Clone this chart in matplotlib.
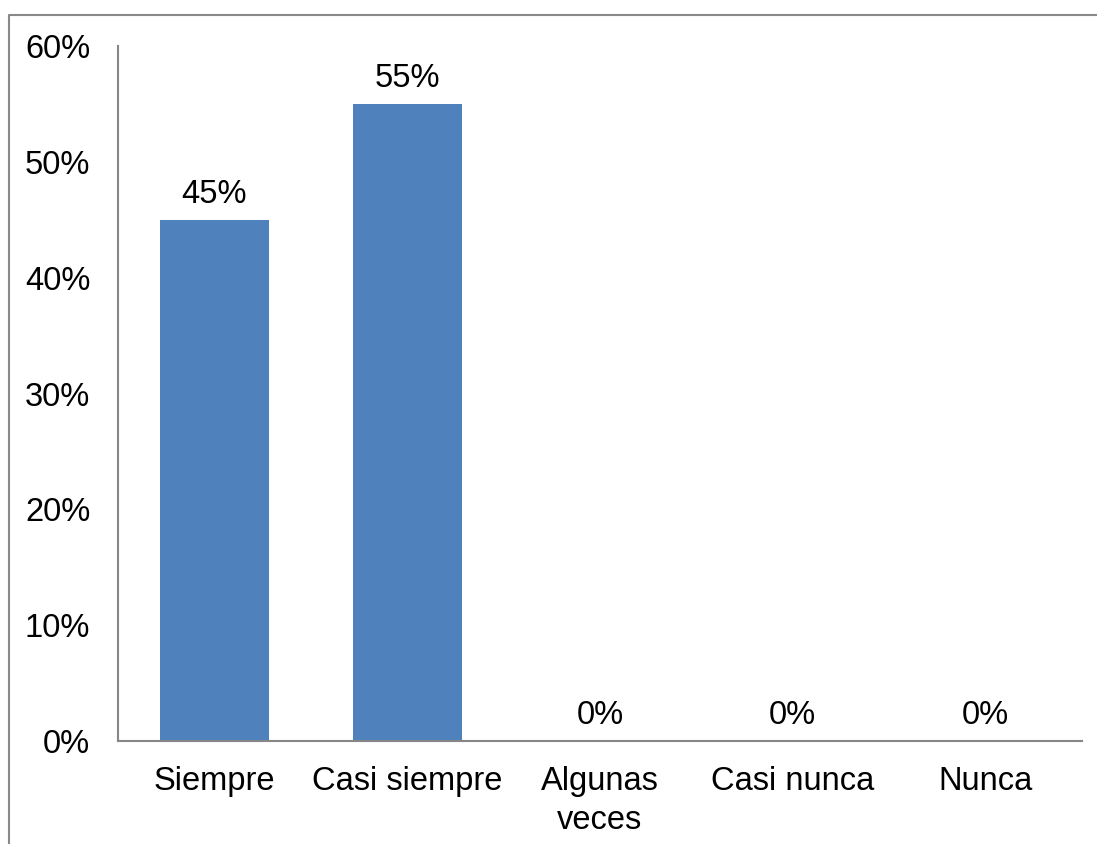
import matplotlib
matplotlib.use("Agg")
import matplotlib.pyplot as plt
from matplotlib.lines import Line2D

categorias = ["Siempre", "Casi siempre", "Algunas\nveces", "Casi nunca", "Nunca"]
valores = [45, 55, 0, 0, 0]
ticks_y = [0, 10, 20, 30, 40, 50, 60]

plt.rcParams['font.family'] = ['Liberation Sans', 'DejaVu Sans']
tam = 23.5

W, H = 1097, 844
fig = plt.figure(figsize=(W / 100, H / 100), dpi=100)
ax = fig.add_axes([118 / W, 1 - 741 / H, (1082 - 118) / W, (741 - 46) / H])

x = range(len(categorias))
barras = ax.bar(x, valores, width=0.565, color="#4F81BD")
for b, v in zip(barras, valores):
    ax.annotate(f"{v}%", (b.get_x() + b.get_width() / 2, v), xytext=(0, 7),
                textcoords="offset points", ha="center", va="bottom", fontsize=tam)

ax.set_xlim(-0.5, len(categorias) - 0.5)
ax.set_ylim(0, 60)
ax.set_yticks(ticks_y)
ax.set_yticklabels([f"{t}%" for t in ticks_y])
ax.set_xticks(list(x))
ax.set_xticklabels(categorias, linespacing=1.35)
ax.tick_params(axis="y", length=0, pad=20, labelsize=tam)
ax.tick_params(axis="x", length=0, pad=18, labelsize=tam)

for s in ["top", "right"]:
    ax.spines[s].set_visible(False)
for s in ["left", "bottom"]:
    ax.spines[s].set_color("#868686")
    ax.spines[s].set_linewidth(1.5)

# marco exterior
fig.add_artist(Line2D([9 / W, 9 / W, 1.0], [0.0, 1 - 15 / H, 1 - 15 / H],
                      transform=fig.transFigure, color="#898989", linewidth=1.5))

fig.savefig("out.png", dpi=100)
